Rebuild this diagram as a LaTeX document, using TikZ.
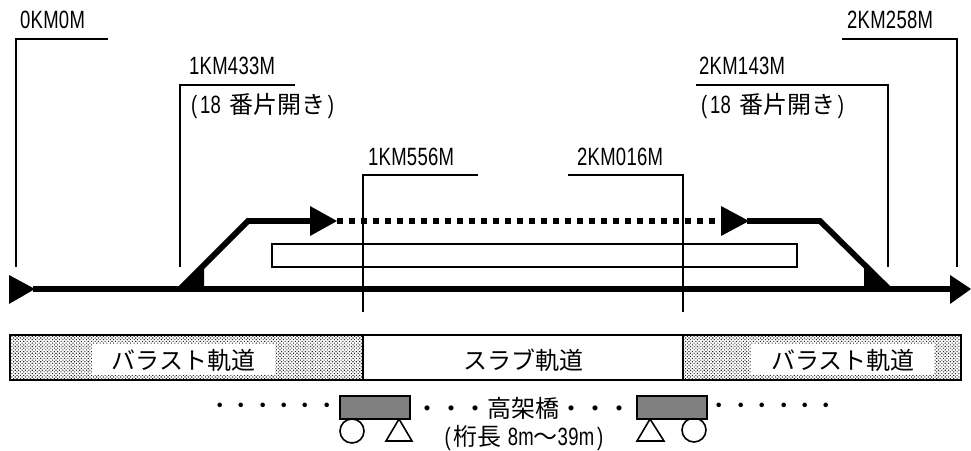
\documentclass[tikz,border=0pt]{standalone}
\usepackage{fontspec}
\usetikzlibrary{patterns.meta}
\setmainfont{Noto Sans CJK JP}
\newfontfamily\latf[FakeStretch=0.74,LetterSpace=1]{Liberation Sans}
\newcommand{\lt}[1]{{\latf\fontsize{25}{25}\selectfont #1}}
\newcommand{\hw}[1]{\makebox[12pt][c]{\lt{#1}}}
\tikzset{
  lbl/.style={inner sep=0pt,anchor=west,font=\fontsize{24}{24}\selectfont},
  txt/.style={inner sep=0pt,font=\fontsize{24}{24}\selectfont},
  dotrow/.style={inner sep=0pt,font=\fontsize{21.4}{22}\selectfont},
  lead/.style={draw=black,line width=1.4pt},
  track/.style={draw=black,line width=5.8pt},
  trackdot/.style={draw=black,line width=5.6pt,dash pattern=on 6pt off 6pt},
  head/.style={fill=black,draw=none},
  band/.style={draw=black,line width=1.6pt},
  ballast/.style={draw=black,line width=1.6pt,pattern={Dots[distance=2.4pt,radius=0.75pt,angle=45]},pattern color=black!85},
  mask/.style={fill=white,draw=none},
  girder/.style={draw=black,line width=2pt,fill=black!50},
  bearing/.style={draw=black,line width=1.6pt,fill=white}
}
\begin{document}
\begin{tikzpicture}[x=1pt,y=-1pt]
\useasboundingbox (0,0) rectangle (971,450);
% leader lines
\coordinate (a1) at (108,39); \coordinate (a2) at (16,39); \coordinate (a3) at (16,267);
\coordinate (b1) at (295,85); \coordinate (b2) at (180,85); \coordinate (b3) at (180,267);
\coordinate (c1) at (478,175); \coordinate (c2) at (363,175); \coordinate (c3) at (363,312);
\coordinate (d1) at (568,175); \coordinate (d2) at (683,175); \coordinate (d3) at (683,312);
\coordinate (e1) at (696,85); \coordinate (e2) at (888,85); \coordinate (e3) at (888,267);
\coordinate (f1) at (842,39); \coordinate (f2) at (957,39); \coordinate (f3) at (957,267);
% platform
\node[draw=black,line width=1.5pt,minimum width=525pt,minimum height=23pt,inner sep=0pt] (platform) at (534.5,255.5) {};
\draw[lead] (a1) -- (a2) -- (a3);
\draw[lead] (b1) -- (b2) -- (b3);
\draw[lead] (c1) -- (c2) -- (c3);
\draw[lead] (d1) -- (d2) -- (d3);
\draw[lead] (e1) -- (e2) -- (e3);
\draw[lead] (f1) -- (f2) -- (f3);
% track
\coordinate (m1) at (33,289); \coordinate (m2) at (952,289);
\coordinate (ls) at (180,289); \coordinate (lk) at (248,221); \coordinate (la) at (312,221);
\coordinate (lb) at (337,221); \coordinate (rb) at (721,221);
\coordinate (ra) at (747,221); \coordinate (rk) at (820,221); \coordinate (rs) at (889,289);
\draw[track] (m1) -- (m2);
\draw[track] (ls) -- (lk) -- (la);
\draw[track] (ra) -- (rk) -- (rs);
\draw[trackdot] (lb) -- (rb);
\fill[head] (9,275) -- (9,304) -- (35,289) -- cycle;
\fill[head] (950,275) -- (950,304) -- (971,289) -- cycle;
\fill[head] (310,206) -- (310,236) -- (337,221) -- cycle;
\fill[head] (721,206) -- (721,236) -- (749,221) -- cycle;
\fill[head] (180,289) -- (204,289) -- (204,265) -- cycle;
\fill[head] (864,265) -- (864,289) -- (889,289) -- cycle;
% labels
\node[lbl] (t0) at (20,20) {\lt{0KM0M}};
\node[lbl] (t1) at (189,66) {\lt{1KM433M}};
\node[lbl] (t1b) at (188,106) {\hw{(}\lt{18}\hspace{8pt}番片開き\hw{)}};
\node[lbl] (t2) at (368,157) {\lt{1KM556M}};
\node[lbl] (t3) at (577,157) {\lt{2KM016M}};
\node[lbl] (t4) at (699,66) {\lt{2KM143M}};
\node[lbl] (t4b) at (698,106) {\hw{(}\lt{18}\hspace{8pt}番片開き\hw{)}};
\node[lbl] (t5) at (847,20) {\lt{2KM258M}};
% bands
\path[ballast] (10,335) rectangle (363,380);
\path[band] (363,335) rectangle (683,380);
\path[ballast] (683,335) rectangle (961,380);
\node[mask,inner sep=0pt,minimum width=183pt,minimum height=31pt] (bl) at (183.5,359.5) {};
\node[mask,inner sep=0pt,minimum width=183pt,minimum height=31pt] (br) at (842.5,359.5) {};
\node[txt] (tbl) at (183.5,360) {バラスト軌道};
\node[txt] (tsl) at (523,360) {スラブ軌道};
\node[txt] (tbr) at (843,360) {バラスト軌道};
% bridge
\node[txt] (bridge) at (523,408) {・・・高架橋・・・};
\node[dotrow] (dl) at (273.5,408.5) {・・・・・・};
\node[dotrow] (dr) at (773,408.5) {・・・・・・};
\node[txt] (span) at (524,438) {\hw{(}桁長\hspace{6pt}\lt{8m}〜\lt{39m}\hw{)}};
\node[bearing,circle,minimum size=24pt,inner sep=0pt] (cl) at (352,431) {};
\node[bearing,circle,minimum size=24pt,inner sep=0pt] (cr) at (694,430) {};
\draw[bearing] (399,419) -- (412,441) -- (386,441) -- cycle;
\draw[bearing] (650,419) -- (664,441) -- (637,441) -- cycle;
\node[girder,minimum width=70pt,minimum height=23pt,inner sep=0pt] (g1) at (375,407.5) {};
\node[girder,minimum width=70pt,minimum height=23pt,inner sep=0pt] (g2) at (672,407.5) {};
\end{tikzpicture}
\end{document}
